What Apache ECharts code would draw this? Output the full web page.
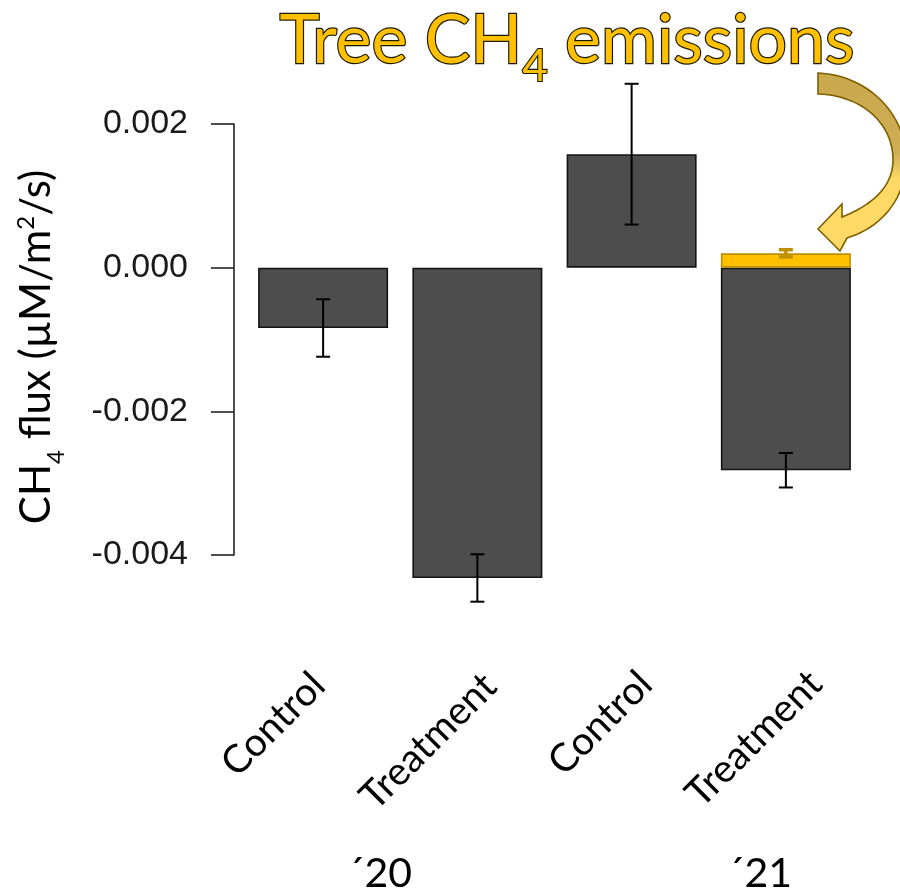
<!DOCTYPE html>
<html>
<head>
<meta charset="utf-8">
<title>Tree CH4 emissions</title>
<script src="https://cdn.jsdelivr.net/npm/echarts@6/dist/echarts.min.js"></script>
<style>
  html, body { margin: 0; padding: 0; background: #ffffff; }
  #chart { width: 900px; height: 896px; }
</style>
</head>
<body>
<div id="chart"></div>
<script>
// Treatment groups along the x axis
const categories = ['Control', 'Treatment', 'Control', 'Treatment'];
// Soil CH4 flux means and standard errors (µM/m²/s)
const soilFlux = [-0.00084, -0.00432, 0.00158, -0.00282];
const soilFluxSE = [0.00040, 0.00033, 0.00098, 0.00024];
// Tree-stem CH4 emissions, measured in the 2021 treatment plots only
const treeFlux = [null, null, null, 0.00020];
const treeFluxSE = [null, null, null, 0.00005];
// Y axis range and tick step
const yMin = -0.004;
const yMax = 0.002;
const yStep = 0.002;
// Campaign years under each pair of bars
const years = ['\u00B420', '\u00B421'];
// Per-label nudges for the rotated category labels (px along / across the baseline)
const labelAlong = [-26, -14.5, -12, -0.5];
const labelAcross = [0, 12.7, 12.3, 23];

const SANS = 'Lato, "Open Sans", sans-serif';
const LABEL_SIZE = 39;

function errorBars(color, width, cap) {
  return function (params, api) {
    const i = api.value(0);
    const m = api.value(1);
    const e = api.value(2);
    const hi = api.coord([i, m + e]);
    const lo = api.coord([i, m - e]);
    const st = { stroke: color, lineWidth: width };
    return {
      type: 'group',
      children: [
        { type: 'line', shape: { x1: hi[0], y1: hi[1], x2: lo[0], y2: lo[1] }, style: st },
        { type: 'line', shape: { x1: hi[0] - cap, y1: hi[1], x2: hi[0] + cap, y2: hi[1] }, style: st },
        { type: 'line', shape: { x1: lo[0] - cap, y1: lo[1], x2: lo[0] + cap, y2: lo[1] }, style: st }
      ]
    };
  };
}

function toTriples(means, ses) {
  const out = [];
  means.forEach(function (v, i) {
    if (v !== null && ses[i] !== null) out.push([i, v, ses[i]]);
  });
  return out;
}

// Flatten a cubic Bézier into points for a polygon outline
function cubic(p0, p1, p2, p3, n) {
  const pts = [];
  for (let k = 0; k <= n; k++) {
    const t = k / n, u = 1 - t;
    pts.push([
      u * u * u * p0[0] + 3 * u * u * t * p1[0] + 3 * u * t * t * p2[0] + t * t * t * p3[0],
      u * u * u * p0[1] + 3 * u * u * t * p1[1] + 3 * u * t * t * p2[1] + t * t * t * p3[1]
    ]);
  }
  return pts;
}

// Curved block arrow: outer edge, arrow head, inner edge back to the tail
const arrowOutline = [].concat(
  cubic([818, 73], [866, 75], [906, 112], [906, 160], 24),
  cubic([906, 160], [906, 200], [880, 228], [847, 238], 20).slice(1),
  [[840, 251], [818, 229], [842, 204]],
  cubic([842, 217], [870, 206], [893, 188], [893, 160], 20),
  cubic([893, 160], [893, 122], [860, 95], [818, 94], 24).slice(1)
);

// One rich-text style per category label, carrying its nudge as padding
const labelRich = {};
categories.forEach(function (c, i) {
  labelRich['t' + i] = {
    fontFamily: SANS,
    fontSize: LABEL_SIZE,
    color: '#000000',
    padding: [labelAcross[i], -labelAlong[i], 0, 0]
  };
});

const chart = echarts.init(document.getElementById('chart'), null, { renderer: 'canvas' });

chart.setOption({
  backgroundColor: '#ffffff',
  animation: false,
  grid: { left: 246, right: 37, top: 124, bottom: 341 },
  xAxis: {
    type: 'category',
    data: categories,
    axisLine: { show: false, onZero: false },
    axisTick: { show: false },
    splitLine: { show: false },
    axisLabel: {
      interval: 0,
      rotate: 45,
      align: 'right',
      verticalAlign: 'top',
      margin: 92,
      color: '#000000',
      fontFamily: SANS,
      fontSize: LABEL_SIZE,
      formatter: function (value, index) {
        return '{t' + index + '|' + value + '}';
      },
      rich: labelRich
    }
  },
  yAxis: {
    type: 'value',
    min: yMin,
    max: yMax,
    interval: yStep,
    offset: 12,
    splitLine: { show: false },
    axisLine: { show: true, lineStyle: { color: '#222222', width: 1.6 } },
    axisTick: { show: true, length: 23, lineStyle: { color: '#222222', width: 1.6 } },
    axisLabel: {
      margin: 46,
      color: '#1a1a1a',
      fontFamily: '"Liberation Sans", Arial, sans-serif',
      fontSize: 34,
      formatter: function (v) {
        return Math.abs(v) < 1e-12 ? '0.000' : v.toFixed(3);
      }
    }
  },
  series: [
    {
      name: 'Soil',
      type: 'bar',
      stack: 'flux',
      barWidth: 130,
      clip: false,
      data: soilFlux,
      itemStyle: { color: '#4d4d4d', borderColor: '#141414', borderWidth: 1.6 }
    },
    {
      name: 'Tree',
      type: 'bar',
      stack: 'flux',
      barWidth: 130,
      clip: false,
      data: treeFlux,
      itemStyle: { color: '#ffc000', borderColor: '#bf9000', borderWidth: 1.6 }
    },
    {
      name: 'Soil SE',
      type: 'custom',
      z: 5,
      renderItem: errorBars('#000000', 2, 7),
      data: toTriples(soilFlux, soilFluxSE)
    },
    {
      name: 'Tree SE',
      type: 'custom',
      z: 5,
      renderItem: errorBars('#bf9000', 3.5, 7),
      data: toTriples(treeFlux, treeFluxSE)
    }
  ],
  graphic: [
    // headline
    {
      type: 'text',
      x: 567,
      y: 41,
      z: 10,
      style: {
        text: '{a|Tree CH}{s|4}{a| emissions}',
        align: 'center',
        verticalAlign: 'middle',
        rich: {
          a: { fontFamily: SANS, fontSize: 68, lineHeight: 96, fill: '#ffc000', stroke: '#1a1a00', lineWidth: 2.4 },
          s: { fontFamily: SANS, fontSize: 44, lineHeight: 44, verticalAlign: 'bottom', fill: '#ffc000', stroke: '#1a1a00', lineWidth: 2.2 }
        }
      }
    },
    // y axis title
    {
      type: 'text',
      x: 36,
      y: 347,
      rotation: Math.PI / 2,
      style: {
        text: '{a|CH}{s|4}{a| flux (\u00B5M/m}{p|2}{a|/s)}',
        align: 'center',
        verticalAlign: 'middle',
        rich: {
          a: { fontFamily: SANS, fontSize: 42, lineHeight: 65, fill: '#000000' },
          s: { fontFamily: SANS, fontSize: 24, lineHeight: 24, verticalAlign: 'bottom', fill: '#000000' },
          p: { fontFamily: SANS, fontSize: 24, lineHeight: 24, verticalAlign: 'top', padding: [11, 0, 0, 0], fill: '#000000' }
        }
      }
    },
    // campaign years
    {
      type: 'text', x: 380, y: 874,
      style: { text: years[0], align: 'center', verticalAlign: 'middle', fontFamily: SANS, fontSize: 41, fill: '#000000' }
    },
    {
      type: 'text', x: 760, y: 874,
      style: { text: years[1], align: 'center', verticalAlign: 'middle', fontFamily: SANS, fontSize: 41, fill: '#000000' }
    },
    // curved call-out arrow pointing at the tree-emission bar
    {
      type: 'polygon',
      z: 10,
      shape: { points: arrowOutline },
      style: {
        fill: {
          type: 'linear', x: 0, y: 0, x2: 0, y2: 1,
          colorStops: [
            { offset: 0, color: '#c9a84e' },
            { offset: 0.45, color: '#cfad55' },
            { offset: 0.6, color: '#ffd966' },
            { offset: 1, color: '#ffd966' }
          ]
        },
        stroke: '#7f6000',
        lineWidth: 1.6
      }
    }
  ]
});
</script>
</body>
</html>
